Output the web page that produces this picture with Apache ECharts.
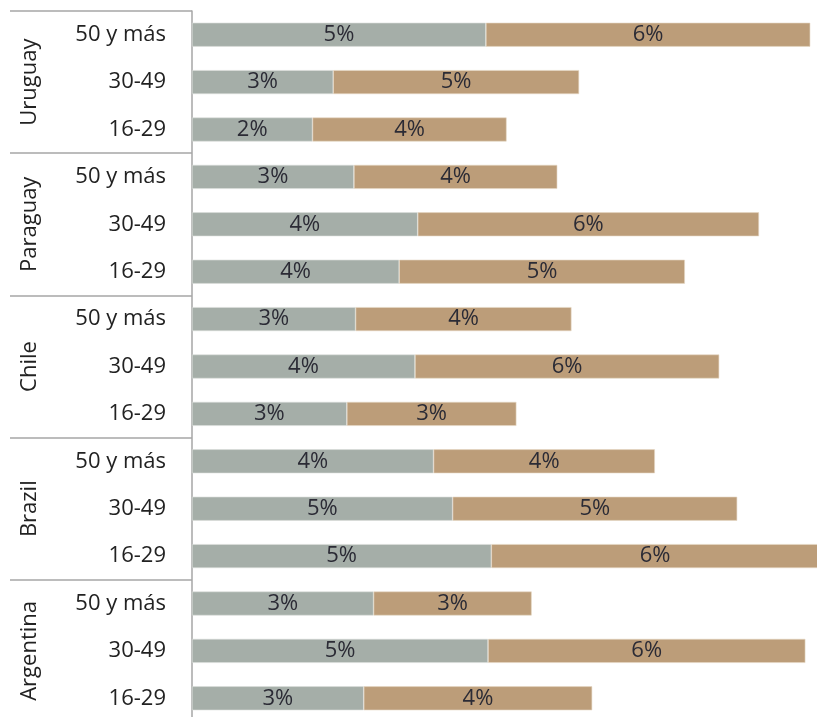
<!DOCTYPE html>
<html>
<head>
<meta charset="utf-8">
<script src="https://cdn.jsdelivr.net/npm/echarts@6/dist/echarts.min.js"></script>
<style>
  html, body { margin: 0; padding: 0; background: #fff; }
  #chart { width: 817px; height: 717px; }
</style>
</head>
<body>
<div id="chart"></div>
<script>
// rows top to bottom
const countries = ['Uruguay', 'Paraguay', 'Chile', 'Brazil', 'Argentina'];
const ages = [
  '50 y más', '30-49', '16-29',
  '50 y más', '30-49', '16-29',
  '50 y más', '30-49', '16-29',
  '50 y más', '30-49', '16-29',
  '50 y más', '30-49', '16-29'
];
const firstPart = [5.39, 2.59, 2.21, 2.97, 4.14, 3.80, 3.00, 4.09, 2.84, 4.43, 4.78, 5.49, 3.33, 5.43, 3.15];
const secondPart = [5.95, 4.51, 3.56, 3.73, 6.26, 5.24, 3.96, 5.58, 3.11, 4.06, 5.22, 6.01, 2.90, 5.82, 4.19];

const lineGray = '#a6a6a6';
const fontFamily = '"Open Sans", sans-serif';

const labelStyle = {
  show: true,
  position: 'inside',
  color: '#2b2b35',
  fontSize: 22,
  fontFamily: fontFamily,
  formatter: p => Math.round(p.value) + '%'
};

const chart = echarts.init(document.getElementById('chart'));
chart.setOption({
  animation: false,
  grid: { left: 192, top: 11, width: 627, height: 711, outerBoundsMode: 'none' },
  xAxis: {
    type: 'value',
    min: 0,
    max: 11.5,
    show: false
  },
  yAxis: [
    {
      type: 'category',
      data: ages,
      inverse: true,
      position: 'left',
      axisLine: { show: true, lineStyle: { color: lineGray, width: 1.5 } },
      axisTick: { show: false },
      axisLabel: {
        margin: 26,
        color: '#222',
        fontSize: 22,
        fontFamily: fontFamily
      }
    },
    {
      type: 'category',
      data: countries,
      inverse: true,
      position: 'left',
      axisLine: { show: false },
      axisTick: { show: true, length: 182, lineStyle: { color: lineGray, width: 1.5 } },
      axisLabel: {
        margin: 162,
        rotate: 90,
        align: 'center',
        verticalAlign: 'middle',
        color: '#222',
        fontSize: 22,
        fontFamily: fontFamily
      }
    }
  ],
  series: [
    {
      name: 'A',
      type: 'bar',
      stack: 'total',
      yAxisIndex: 0,
      barWidth: 24,
      data: firstPart,
      itemStyle: { color: '#a5aea8', borderColor: '#dcdfdc', borderWidth: 0.6 },
      label: labelStyle
    },
    {
      name: 'B',
      type: 'bar',
      stack: 'total',
      yAxisIndex: 0,
      barWidth: 24,
      data: secondPart,
      itemStyle: { color: '#bc9d79', borderColor: '#e6d8c6', borderWidth: 0.6 },
      label: labelStyle
    }
  ]
});
</script>
</body>
</html>
